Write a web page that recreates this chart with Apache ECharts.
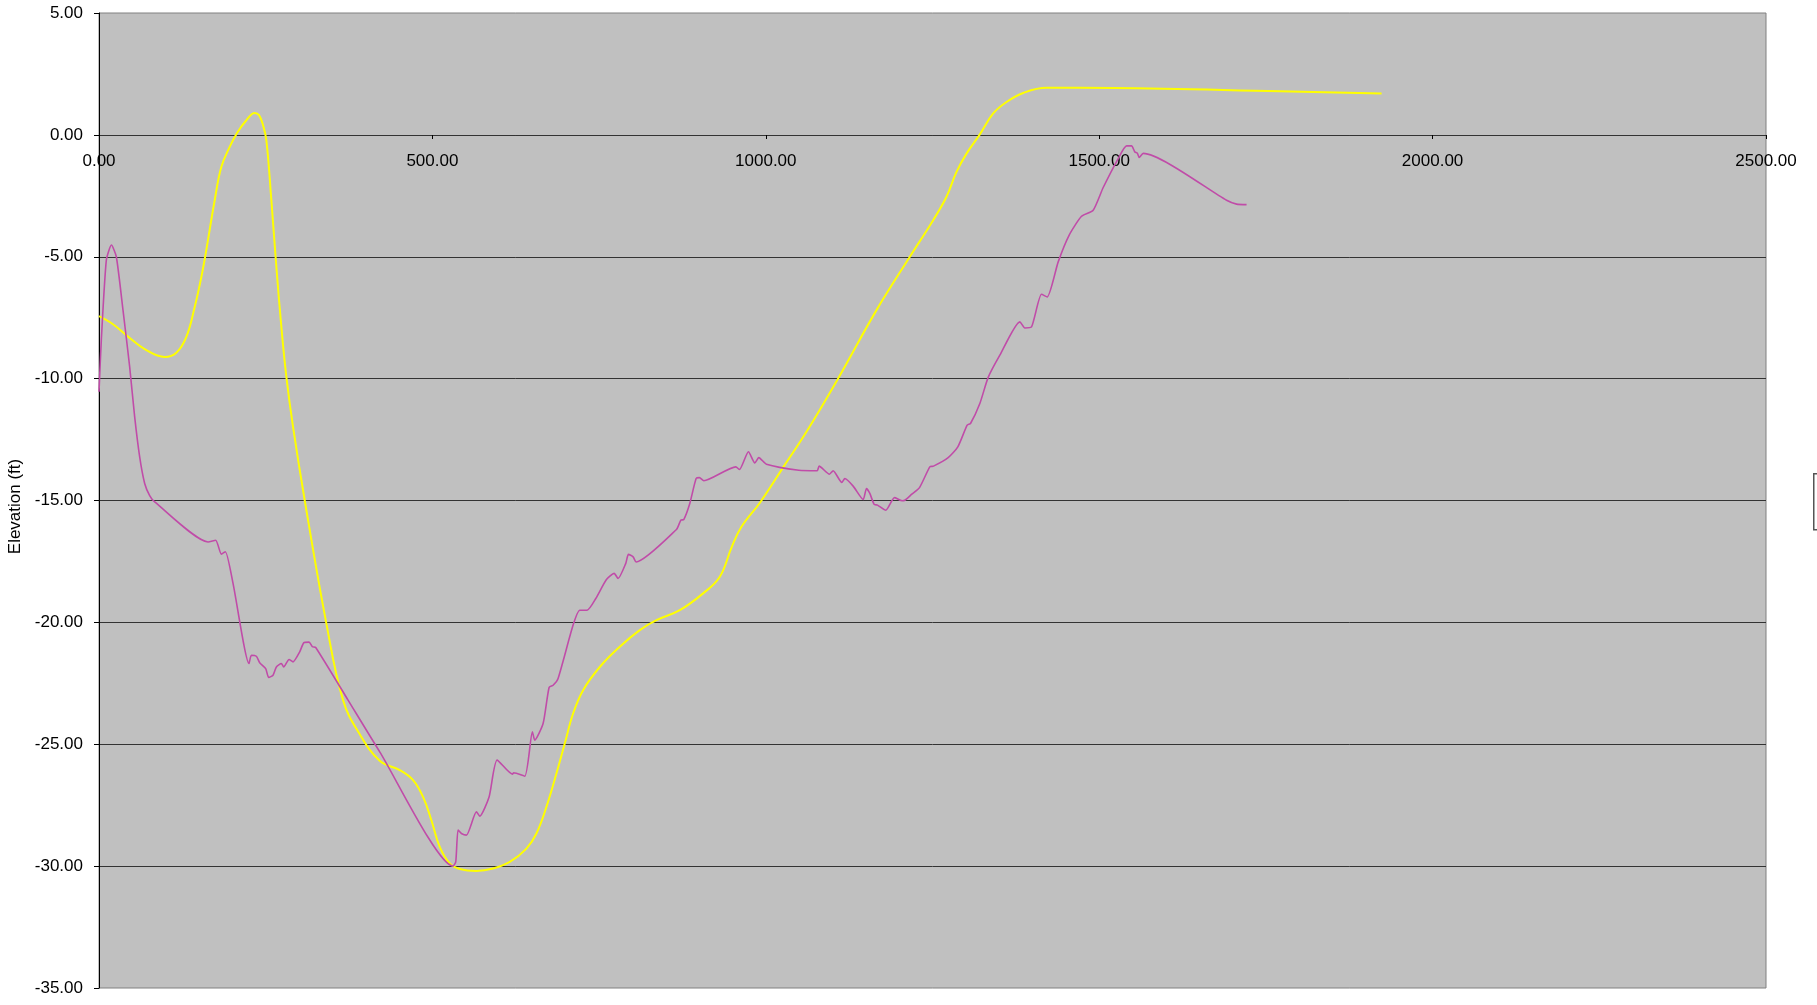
<!DOCTYPE html>
<html>
<head>
<meta charset="utf-8">
<script src="https://cdn.jsdelivr.net/npm/echarts@6/dist/echarts.min.js"></script>
<style>
  html, body { margin: 0; padding: 0; background: #fff; }
  #profile { width: 1817px; height: 1005px; }
</style>
</head>
<body>
<div id="profile"></div>
<script>
// magenta profile (station, elevation)
var pinkStation = [0, 3.5, 11, 18.6, 26, 36, 46, 53.5, 61, 68.5, 76, 83.5, 163.5, 175, 183.5, 189.5, 201, 225, 228.5, 236, 241, 250, 254.5, 261, 266, 273.5, 277, 285, 291, 301, 307, 315, 320, 325, 373.5, 421, 531, 535, 538.5, 543.5, 551, 566, 571, 585, 597, 620, 622, 638.5, 650, 653.5, 666, 675, 681, 688.5, 711, 721, 732, 745, 761, 772.5, 778.5, 790, 794, 801, 805.5, 866, 872.5, 877, 886, 895.5, 900.5, 907, 955, 960.5, 974, 983.5, 989.5, 1001, 1049.5, 1077, 1080, 1095.5, 1101, 1114, 1118.5, 1131, 1146, 1151, 1156, 1162.5, 1167.5, 1180, 1193, 1204.5, 1208.5, 1219, 1230.5, 1246, 1251.5, 1273.5, 1288, 1302, 1307, 1321, 1333.5, 1351, 1381, 1388.5, 1398.5, 1413.5, 1422, 1438.5, 1455, 1473.5, 1491, 1506, 1528.5, 1541, 1548.5, 1553.5, 1557, 1560, 1566, 1691, 1706, 1721];
var pinkElev = [-10.54, -8.4, -5.14, -4.52, -5.0, -7.19, -9.52, -11.57, -13.21, -14.3, -14.8, -15.06, -16.7, -16.63, -17.2, -17.1, -18.4, -21.69, -21.35, -21.39, -21.66, -21.9, -22.26, -22.17, -21.83, -21.69, -21.83, -21.52, -21.62, -21.21, -20.84, -20.81, -21.0, -21.03, -23.19, -25.31, -30.0, -29.83, -28.52, -28.66, -28.73, -27.77, -27.95, -27.16, -25.65, -26.23, -26.17, -26.31, -24.49, -24.83, -24.15, -22.67, -22.58, -22.3, -20.11, -19.5, -19.5, -19.02, -18.24, -17.99, -18.2, -17.58, -17.21, -17.31, -17.52, -16.19, -15.81, -15.78, -15.12, -14.1, -14.06, -14.19, -13.62, -13.73, -13.0, -13.46, -13.24, -13.51, -13.76, -13.78, -13.59, -13.92, -13.78, -14.26, -14.1, -14.41, -14.96, -14.51, -14.71, -15.16, -15.19, -15.4, -14.88, -15.01, -14.99, -14.74, -14.47, -13.62, -13.59, -13.24, -12.8, -11.91, -11.84, -11.02, -9.95, -9.04, -7.67, -7.92, -7.88, -6.54, -6.65, -5.21, -4.11, -3.34, -3.09, -2.16, -0.97, -0.45, -0.45, -0.7, -0.74, -0.93, -0.76, -2.68, -2.84, -2.86];

// yellow profile (station, elevation)
var yellowStation = [0, 21, 41, 71, 98.5, 116, 131, 143.5, 153.5, 160, 173.5, 183.5, 196, 207, 221, 233.5, 240, 246, 251, 258.5, 266, 273.5, 281, 291, 308.5, 341, 366, 389, 421, 451, 471, 486, 498.5, 511, 526, 541, 566, 591, 616, 641, 656, 671, 686, 698.5, 711, 726, 751, 781, 811, 836, 871, 906, 931, 949, 963.5, 992, 1026.5, 1061, 1108.5, 1166, 1216, 1251, 1271, 1286, 1301, 1321, 1341, 1361, 1386, 1421, 1521, 1771, 1923.5];
var yellowElev = [-7.44, -7.77, -8.22, -8.83, -9.11, -8.94, -8.29, -7.06, -5.83, -4.87, -2.68, -1.31, -0.49, 0.08, 0.6, 0.9, 0.81, 0.4, -0.22, -2.68, -5.42, -7.88, -9.93, -11.98, -14.99, -20.05, -23.19, -24.5, -25.68, -26.06, -26.47, -27.16, -28.12, -29.21, -29.89, -30.12, -30.2, -30.1, -29.83, -29.28, -28.66, -27.57, -26.2, -24.97, -23.74, -22.78, -21.83, -21.0, -20.32, -19.91, -19.5, -18.81, -18.13, -16.9, -16.08, -15.06, -13.62, -12.18, -9.99, -7.19, -5.0, -3.5, -2.54, -1.52, -0.77, 0.02, 0.88, 1.35, 1.72, 1.93, 1.92, 1.79, 1.7];

var pinkData = pinkStation.map(function (s, i) { return [s, pinkElev[i]]; });
var yellowData = yellowStation.map(function (s, i) { return [s, yellowElev[i]]; });

var chartDom = document.getElementById("profile");
var myChart = echarts.init(chartDom);
var option;

var gridTop = 13;
var gridBottom = 17;
var yMin = -35;
var yMax = 5;
// x axis sits on the zero line, labels under it
var plotH = 1005 - gridTop - gridBottom;
var zeroOffset = -Math.round(plotH * (0 - yMin) / (yMax - yMin));

var labelFont = {
  color: "#000",
  fontSize: 17,
  fontFamily: "Liberation Sans, Arial, sans-serif",
};

option = {
  animation: false,
  grid: {
    show: true,
    left: 99,
    top: gridTop,
    right: 51,
    bottom: gridBottom,
    outerBoundsMode: "none",
    containLabel: false,
    backgroundColor: "#C0C0C0",
    borderColor: "#808080",
    borderWidth: 1,
  },
  xAxis: {
    type: "value",
    min: 0,
    max: 2500,
    interval: 500,
    position: "bottom",
    offset: zeroOffset,
    axisLine: { onZero: false, lineStyle: { color: "#333", width: 1 } },
    axisTick: { show: true, length: 4, lineStyle: { color: "#000" } },
    axisLabel: Object.assign({
      margin: 18,
      formatter: function (v) { return v.toFixed(2); },
    }, labelFont),
    splitLine: { show: false },
  },
  yAxis: {
    type: "value",
    min: yMin,
    max: yMax,
    interval: 5,
    name: "Elevation (ft)",
    nameLocation: "middle",
    nameGap: 50,
    nameRotate: 90,
    nameTextStyle: Object.assign({ padding: [0, 12, 0, 0] }, labelFont),
    axisLine: { show: true, lineStyle: { color: "#000", width: 1 } },
    axisTick: { show: true, length: 5, lineStyle: { color: "#000" } },
    axisLabel: Object.assign({
      margin: 16,
      formatter: function (v) { return v.toFixed(2); },
    }, labelFont),
    splitLine: {
      show: true,
      showMinLine: false,
      showMaxLine: false,
      lineStyle: { color: "#333", width: 1 },
    },
  },
  series: [
    {
      name: "Profile A",
      type: "line",
      data: yellowData,
      smooth: 0.4,
      symbol: "none",
      lineStyle: { color: "#FFFF00", width: 2 },
      z: 2,
    },
    {
      name: "Profile B",
      type: "line",
      data: pinkData,
      smooth: 0.2,
      symbol: "none",
      lineStyle: { color: "#C04CA8", width: 1.6 },
      z: 3,
    },
  ],
  // cut-off legend frame at the right edge
  graphic: [
    {
      type: "rect",
      left: 1813,
      top: 473,
      shape: { width: 30, height: 56 },
      style: { fill: "#fff", stroke: "#555", lineWidth: 1.5 },
    },
  ],
};

option && myChart.setOption(option);
</script>
</body>
</html>
